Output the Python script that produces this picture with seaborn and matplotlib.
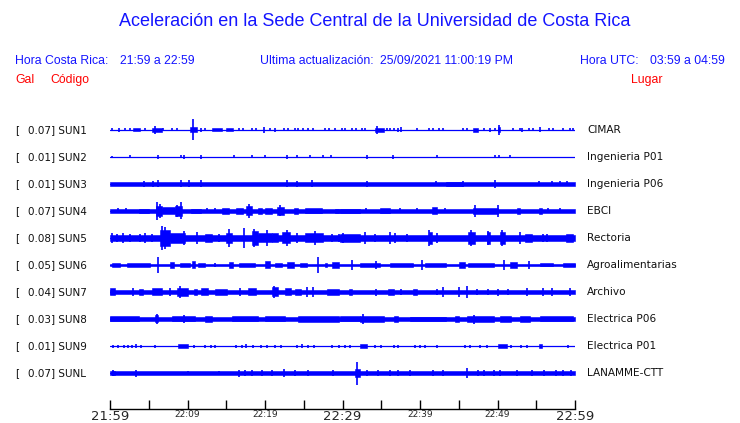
import matplotlib
matplotlib.use("Agg")
import matplotlib.pyplot as plt
import seaborn as sns

# station labels (top to bottom)
codes = ["SUN1", "SUN2", "SUN3", "SUN4", "SUN5", "SUN6", "SUN7", "SUN8", "SUN9", "SUNL"]
gal_values = [0.07, 0.01, 0.01, 0.07, 0.08, 0.05, 0.04, 0.03, 0.01, 0.07]
places = ["CIMAR", "Ingenieria P01", "Ingenieria P06", "EBCI", "Rectoria",
          "Agroalimentarias", "Archivo", "Electrica P06", "Electrica P01", "LANAMME-CTT"]

# time axis, minutes after 21:59
tick_minutes = list(range(0, 61, 5))
tick_labels = ["21:59", "", "22:09", "", "22:19", "", "22:29", "", "22:39", "", "22:49", "", "22:59"]
big_ticks = ["21:59", "22:29", "22:59"]

# background noise half-width of every trace (pixels)
base_px = [0.5, 0.4, 2.0, 1.7, 3.0, 1.1, 2.2, 1.8, 0.4, 1.7]

# envelope events: (start min, end min, half height px)
# start == end -> single spike
ev_sun1 = [(3.0, 3.9, 1.5), (5.4, 6.7, 2.0), (5.8, 5.8, 4.0), (10.3, 11.2, 2.5), (10.75, 10.75, 10.5),
           (13.1, 14.4, 1.5), (15.0, 15.9, 1.5), (34.2, 35.3, 2.0), (34.4, 34.4, 4.0), (46.9, 47.5, 2.0),
           (50.0, 50.3, 2.5), (50.2, 50.2, 5.0),
           (0.2, 0.2, 1.5), (1.1, 1.1, 2), (1.9, 1.9, 1.5), (2.6, 2.6, 1.5), (4.5, 4.5, 1.5), (6.9, 6.9, 1.5),
           (8.0, 8.0, 1.5), (8.6, 8.6, 1.5), (11.8, 11.8, 2), (12.3, 12.3, 1.5), (16.6, 16.6, 1.5),
           (17.2, 17.2, 1.5), (18.3, 18.3, 1.5), (18.9, 18.9, 1.5), (19.9, 19.9, 3), (20.6, 20.6, 1.5),
           (21.3, 21.3, 2), (22.4, 22.4, 1.5), (23.0, 23.0, 1.5), (23.9, 23.9, 1.5), (24.3, 24.3, 1.5),
           (24.9, 24.9, 1.5), (25.6, 25.6, 1.5), (26.2, 26.2, 1.5), (27.7, 27.7, 1.5), (28.2, 28.2, 1.5),
           (29.0, 29.0, 1.5), (29.9, 29.9, 1.5), (30.3, 30.3, 1.5), (31.2, 31.2, 1.5), (31.8, 31.8, 1.5),
           (32.5, 32.5, 1.5), (32.9, 32.9, 1.5), (35.7, 35.7, 1.5), (36.1, 36.1, 1.5), (36.6, 36.6, 1.5),
           (37.2, 37.2, 2), (37.6, 37.6, 2.5), (39.6, 39.6, 1.5), (41.1, 41.1, 1.5), (41.7, 41.7, 1.5),
           (42.4, 42.4, 1.5), (43.0, 43.0, 1.5), (45.6, 45.6, 1.5), (46.0, 46.0, 1.5), (48.2, 48.2, 1.5),
           (49.0, 49.0, 2), (49.7, 49.7, 1.5), (52.0, 52.0, 1.5), (52.9, 52.9, 1.5), (53.1, 53.1, 2),
           (54.0, 54.0, 1.5), (54.6, 54.6, 1.5), (55.5, 55.5, 2.5), (56.6, 56.6, 1.5), (57.2, 57.2, 1.5),
           (58.5, 58.5, 1.5), (59.4, 59.4, 1.5), (59.8, 59.8, 1.5)]

ev_sun2 = [(0.2, 0.2, 1.2), (2.6, 2.6, 1.5), (6.2, 6.2, 2), (9.2, 9.2, 1.5), (9.6, 9.6, 2), (11.8, 11.8, 2),
           (16.0, 16.0, 1.5), (18.3, 18.3, 1.5), (20.0, 20.0, 1.5), (22.9, 22.9, 2), (24.1, 24.1, 1.5),
           (25.8, 25.8, 1.5), (27.5, 27.5, 1.5), (28.5, 28.5, 1.5), (33.2, 33.2, 2), (36.5, 36.5, 2),
           (42.2, 42.2, 1.5), (49.7, 49.7, 1.5), (50.2, 50.2, 1.5), (51.6, 51.6, 1.5)]

ev_sun3 = [(43.4, 45.4, 2.3),
           (4.4, 4.4, 3), (5.5, 5.5, 3), (6.2, 6.2, 3.5), (9.2, 9.2, 3.5), (10.2, 10.2, 3.5), (11.8, 11.8, 3.5),
           (22.9, 22.9, 3.5), (24.1, 24.1, 3), (26.0, 26.0, 3.5), (33.2, 33.2, 3), (42.0, 42.0, 2.5),
           (45.6, 45.6, 3), (49.7, 49.7, 4), (55.3, 55.3, 2.5), (57.0, 57.0, 2.5), (58.0, 58.0, 2.5),
           (59.0, 59.0, 2.5)]

ev_sun4 = [(3.7, 5.0, 2.3), (5.9, 6.7, 5.0), (6.0, 6.0, 9.0), (6.5, 6.5, 7), (6.7, 8.4, 3.5), (8.4, 9.3, 5.0),
           (8.6, 8.6, 6), (9.1, 9.1, 8.5), (10.5, 11.8, 2.2), (14.4, 15.3, 3.2), (16.3, 17.2, 2.6),
           (17.6, 18.3, 4.5), (17.9, 17.9, 7), (19.1, 19.6, 2.6), (20.0, 20.9, 3.3), (21.5, 22.4, 4.0),
           (21.9, 21.9, 5.5), (23.7, 24.3, 2.6), (25.2, 27.3, 2.5), (29.0, 29.5, 2.3), (29.7, 32.3, 2.2),
           (34.8, 36.1, 2.5), (41.5, 42.2, 3.5), (46.9, 50.1, 3.0), (47.1, 47.1, 6), (50.0, 50.0, 6),
           (52.5, 52.9, 2.6), (55.3, 55.7, 3.3),
           (1.0, 1.0, 2.5), (2.0, 2.0, 2.5), (12.5, 12.5, 2.5), (13.5, 13.5, 2.5), (33.0, 33.0, 2.5),
           (37.4, 37.4, 2.5), (39.6, 39.6, 2.5), (43.2, 43.2, 2.5), (56.5, 56.5, 2.5), (58.0, 58.0, 2.5)]

ev_sun5 = [(6.5, 7.7, 8.0), (6.7, 6.7, 12), (7.1, 7.1, 11), (7.7, 9.7, 5.0), (9.5, 9.5, 7), (12.3, 13.1, 4.0),
           (15.0, 15.7, 5.0), (15.3, 15.3, 9), (17.3, 17.3, 10), (18.3, 19.1, 7.0), (18.6, 18.6, 9),
           (19.1, 20.9, 4.5), (20.2, 20.2, 8), (20.9, 21.7, 4.5), (22.2, 23.2, 5.5), (22.8, 22.8, 8),
           (25.2, 27.5, 4.5), (26.4, 26.4, 7), (29.7, 32.3, 3.8), (41.1, 41.5, 6.0), (41.2, 41.2, 8),
           (46.2, 47.1, 6.0), (46.6, 46.6, 8), (48.6, 49.0, 6.0), (48.8, 48.8, 7), (50.3, 51.0, 6.0),
           (50.6, 50.6, 8), (53.5, 54.4, 4.0), (58.9, 59.8, 4.0),
           (0.2, 0.2, 5), (0.9, 0.9, 4), (1.7, 1.7, 5), (2.6, 2.6, 4), (3.9, 3.9, 4), (4.5, 4.5, 5),
           (5.4, 5.4, 4), (11.2, 11.2, 6), (14.0, 14.0, 4), (24.1, 24.1, 5), (28.6, 28.6, 4), (29.5, 29.5, 4),
           (30.1, 30.1, 5), (32.9, 32.9, 6), (34.2, 34.2, 4), (36.1, 36.1, 6), (36.8, 36.8, 5), (38.3, 38.3, 4),
           (42.2, 42.2, 5), (52.9, 52.9, 6), (55.9, 55.9, 4), (56.4, 56.4, 4)]

ev_sun6 = [(0.2, 1.3, 2.0), (2.2, 5.2, 1.8), (7.7, 8.2, 3.0), (9.0, 10.3, 1.8), (10.6, 11.0, 3.5),
           (11.4, 12.3, 1.8), (15.3, 15.9, 3.2), (16.6, 18.7, 1.8), (20.0, 20.6, 3.5), (21.3, 22.2, 2.3),
           (22.8, 23.7, 2.7), (24.5, 25.4, 1.8), (27.7, 28.0, 1.8), (28.6, 29.5, 2.7), (32.3, 34.8, 2.2),
           (36.1, 39.1, 1.8), (40.6, 43.4, 1.8), (45.0, 45.8, 2.7), (46.2, 49.5, 2.2), (51.6, 52.5, 2.7),
           (55.5, 57.2, 1.5), (58.5, 60.0, 1.8),
           (6.2, 6.2, 8), (13.5, 13.5, 2), (26.9, 26.9, 8), (31.2, 31.2, 5), (34.3, 34.3, 4), (40.2, 40.2, 5),
           (50.8, 50.8, 5), (54.0, 54.0, 4)]

ev_sun7 = [(0.0, 0.6, 3.5), (3.7, 4.3, 3.2), (5.4, 6.7, 3.5), (8.6, 10.1, 4.0), (10.8, 11.2, 3.2),
           (11.8, 12.7, 3.5), (13.5, 15.1, 3.0), (17.8, 18.9, 3.5), (20.9, 21.7, 4.5), (22.6, 23.4, 3.5),
           (23.9, 24.7, 3.2), (28.0, 29.5, 3.2), (30.8, 31.2, 3.2), (35.9, 36.6, 2.8), (39.1, 39.6, 2.8),
           (3.0, 3.0, 4), (7.7, 7.7, 4), (9.0, 9.0, 6), (16.8, 16.8, 4), (21.2, 21.2, 6), (25.4, 25.4, 5),
           (26.2, 26.2, 5), (34.3, 34.3, 3.5), (37.6, 37.6, 3), (42.2, 42.2, 3), (43.0, 43.0, 5), (45.0, 45.0, 5),
           (46.0, 46.0, 6), (47.3, 47.3, 3), (48.8, 48.8, 3), (50.1, 50.1, 3.5), (51.4, 51.4, 3),
           (53.8, 53.8, 4), (55.9, 55.9, 4), (57.0, 57.0, 4), (59.4, 59.4, 4)]

ev_sun8 = [(0.0, 3.7, 2.5), (5.8, 6.2, 3.5), (8.0, 11.0, 2.5), (12.3, 13.1, 3.0), (15.7, 19.1, 2.5),
           (20.0, 22.6, 2.5), (24.3, 29.5, 2.7), (29.7, 32.3, 2.5), (32.3, 35.3, 3.0), (36.6, 37.2, 3.0),
           (38.7, 43.4, 2.4), (44.5, 45.0, 3.0), (46.0, 49.5, 3.0), (50.3, 51.8, 3.3), (52.9, 54.2, 3.3),
           (55.5, 59.8, 2.5),
           (6.0, 6.0, 5), (9.5, 9.5, 4), (32.7, 32.7, 5), (47.0, 47.0, 4.5)]

ev_sun9 = [(8.8, 10.1, 1.8), (32.3, 33.1, 1.8), (50.1, 51.2, 1.6), (55.4, 55.7, 2.0),
           (0.4, 0.4, 1.5), (1.0, 1.0, 1.5), (1.8, 1.8, 1.5), (2.3, 2.3, 1.5), (2.8, 2.8, 1.5), (3.3, 3.3, 2),
           (4.0, 4.0, 1.5), (5.8, 5.8, 1.5), (10.8, 10.8, 1.5), (12.3, 12.3, 1.5), (13.0, 13.0, 1.5),
           (13.6, 13.6, 1.5), (16.2, 16.2, 1.5), (17.0, 17.0, 1.5), (17.6, 17.6, 2), (18.5, 18.5, 1.5),
           (19.5, 19.5, 1.5), (20.3, 20.3, 1.5), (21.3, 21.3, 1.5), (22.0, 22.0, 1.5), (24.1, 24.1, 1.5),
           (24.8, 24.8, 2), (25.5, 25.5, 1.5), (26.3, 26.3, 1.5), (28.6, 28.6, 1.5), (29.5, 29.5, 1.5),
           (30.3, 30.3, 1.5), (31.0, 31.0, 1.5), (34.2, 34.2, 1.5), (35.0, 35.0, 1.5), (36.6, 36.6, 1.5),
           (37.2, 37.2, 1.5), (39.4, 39.4, 1.5), (40.0, 40.0, 1.5), (40.6, 40.6, 1.5), (42.2, 42.2, 1.5),
           (45.8, 45.8, 1.5), (46.5, 46.5, 1.5), (47.8, 47.8, 1.5), (48.6, 48.6, 1.5), (51.8, 51.8, 1.5),
           (53.0, 53.0, 1.5), (53.8, 53.8, 1.5), (59.1, 59.1, 1.5)]

ev_sunl = [(0.2, 0.6, 2.0), (31.6, 32.2, 4.0),
           (0.4, 0.4, 2.5), (3.4, 3.4, 3.5), (10.0, 10.0, 2.3), (14.0, 14.0, 2.3), (16.6, 16.6, 3.5),
           (17.4, 17.4, 2.5), (18.3, 18.3, 2.5), (19.6, 19.6, 2.5), (20.9, 20.9, 2.5), (22.4, 22.4, 4),
           (23.9, 23.9, 2.5), (25.6, 25.6, 2.5), (28.8, 28.8, 2.5), (31.9, 31.9, 11.5), (33.1, 33.1, 2.5),
           (34.6, 34.6, 2.5), (36.1, 36.1, 2.5), (37.2, 37.2, 2.5), (38.7, 38.7, 2.5), (41.7, 41.7, 2.5),
           (43.0, 43.0, 2.5), (46.0, 46.0, 5), (47.5, 47.5, 2.5), (48.3, 48.3, 2.5), (49.5, 49.5, 2.5),
           (50.3, 50.3, 2.5), (52.5, 52.5, 3), (54.5, 54.5, 2.5), (56.0, 56.0, 2.5), (57.5, 57.5, 2.5),
           (58.5, 58.5, 2.5), (59.5, 59.5, 2.5)]

events = [ev_sun1, ev_sun2, ev_sun3, ev_sun4, ev_sun5, ev_sun6, ev_sun7, ev_sun8, ev_sun9, ev_sunl]

sns.set_theme(style="white")
plt.rcParams["font.family"] = ["DejaVu Sans"]

W, H = 740, 423
BLUE = "#0000ff"
TXT_BLUE = "#1414ff"
fig = plt.figure(figsize=(W / 100, H / 100), dpi=100)
fig.patch.set_facecolor("white")

# trace area: 110..575 px wide, rows 27 px apart starting at y=130
ax = fig.add_axes([110 / W, 1 - 409 / H, 465 / W, (409 - 115) / H])
ax.set_xlim(0, 60)
ax.set_ylim((409 - 130) / 27, (115 - 130) / 27)
px = 1 / 27.0

for i, evs in enumerate(events):
    b = base_px[i] * px
    if base_px[i] >= 1:
        ax.fill_between([0, 60], i - b, i + b, color=BLUE, lw=0.4)
    sns.lineplot(x=[0, 60], y=[i, i], color=BLUE, lw=0.9, ax=ax)
    for t0, t1, h in evs:
        if t1 > t0:
            ax.fill_between([t0, t1], i - h * px, i + h * px, color=BLUE, lw=0.4)
        else:
            ax.vlines(t0, i - h * px, i + h * px, color=BLUE, lw=1.2)

for s in ["top", "left", "right"]:
    ax.spines[s].set_visible(False)
ax.spines["bottom"].set_color("black")
ax.spines["bottom"].set_linewidth(1.0)
ax.set_yticks([])
ax.set_xticks(tick_minutes)
ax.set_xticklabels(tick_labels)
ax.tick_params(axis="x", direction="in", length=6.5, width=1.0, color="black", pad=1.0, bottom=True)
for lbl in ax.get_xticklabels():
    if lbl.get_text() in big_ticks:
        lbl.set_fontsize(9.5)
    else:
        lbl.set_fontsize(6.5)
ax.set_facecolor("white")

# station labels on both sides
for i in range(len(codes)):
    yf = 1 - (130 + 27 * i) / H
    fig.text(15 / W, yf, "[", fontsize=7.5, color="#111111", va="center")
    fig.text(28 / W, yf, f"{gal_values[i]:.2f}] {codes[i]}", fontsize=7.5, color="#111111", va="center")
    fig.text(587 / W, yf, places[i], fontsize=7.6, color="#111111", va="center")

# header
hfont = "Liberation Sans"
fig.text(375 / W, 1 - 22 / H, "Aceleración en la Sede Central de la Universidad de Costa Rica",
         fontsize=13, color=TXT_BLUE, ha="center", va="center", family=hfont)
fig.text(15 / W, 1 - 61 / H, "Hora Costa Rica:", fontsize=8.8, color=TXT_BLUE, va="center", family=hfont)
fig.text(120 / W, 1 - 61 / H, "21:59 a 22:59", fontsize=8.8, color=TXT_BLUE, va="center", family=hfont)
fig.text(260 / W, 1 - 61 / H, "Ultima actualización:", fontsize=8.8, color=TXT_BLUE, va="center", family=hfont)
fig.text(380 / W, 1 - 61 / H, "25/09/2021 11:00:19 PM", fontsize=8.8, color=TXT_BLUE, va="center", family=hfont)
fig.text(580 / W, 1 - 61 / H, "Hora UTC:", fontsize=8.8, color=TXT_BLUE, va="center", family=hfont)
fig.text(725 / W, 1 - 61 / H, "03:59 a 04:59", fontsize=8.8, color=TXT_BLUE, va="center", ha="right", family=hfont)
fig.text(15 / W, 1 - 80 / H, "Gal", fontsize=8.8, color="#ff0000", va="center", family=hfont)
fig.text(50 / W, 1 - 80 / H, "Código", fontsize=8.8, color="#ff0000", va="center", family=hfont)
fig.text(663 / W, 1 - 80 / H, "Lugar", fontsize=8.8, color="#ff0000", va="center", ha="right", family=hfont)

fig.savefig("out.png", dpi=100, facecolor="white")
